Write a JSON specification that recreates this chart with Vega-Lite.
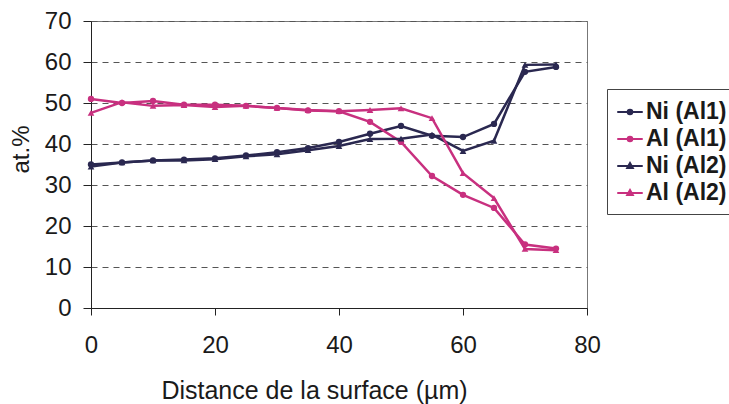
{
  "$schema": "https://vega.github.io/schema/vega-lite/v6.json",
  "width": 496,
  "height": 287,
  "autosize": "none",
  "padding": {"left": 91, "top": 21, "right": 142, "bottom": 96},
  "background": "white",
  "config": {
    "font": "Liberation Sans",
    "view": {"stroke": "#777", "strokeWidth": 1}
  },
  "data": {
    "values": [
      {"x": 0, "y": 35, "s": "Ni (Al1)"}, {"x": 5, "y": 35.5, "s": "Ni (Al1)"}, {"x": 10, "y": 36, "s": "Ni (Al1)"}, {"x": 15, "y": 36.2, "s": "Ni (Al1)"}, {"x": 20, "y": 36.5, "s": "Ni (Al1)"}, {"x": 25, "y": 37.2, "s": "Ni (Al1)"}, {"x": 30, "y": 38, "s": "Ni (Al1)"}, {"x": 35, "y": 39, "s": "Ni (Al1)"}, {"x": 40, "y": 40.5, "s": "Ni (Al1)"}, {"x": 45, "y": 42.5, "s": "Ni (Al1)"}, {"x": 50, "y": 44.4, "s": "Ni (Al1)"}, {"x": 55, "y": 42, "s": "Ni (Al1)"}, {"x": 60, "y": 41.7, "s": "Ni (Al1)"}, {"x": 65, "y": 44.9, "s": "Ni (Al1)"}, {"x": 70, "y": 57.6, "s": "Ni (Al1)"}, {"x": 75, "y": 58.8, "s": "Ni (Al1)"},
      {"x": 0, "y": 51, "s": "Al (Al1)"}, {"x": 5, "y": 50, "s": "Al (Al1)"}, {"x": 10, "y": 50.5, "s": "Al (Al1)"}, {"x": 15, "y": 49.6, "s": "Al (Al1)"}, {"x": 20, "y": 49.6, "s": "Al (Al1)"}, {"x": 25, "y": 49.3, "s": "Al (Al1)"}, {"x": 30, "y": 48.8, "s": "Al (Al1)"}, {"x": 35, "y": 48.2, "s": "Al (Al1)"}, {"x": 40, "y": 48, "s": "Al (Al1)"}, {"x": 45, "y": 45.4, "s": "Al (Al1)"}, {"x": 50, "y": 40.5, "s": "Al (Al1)"}, {"x": 55, "y": 32.2, "s": "Al (Al1)"}, {"x": 60, "y": 27.6, "s": "Al (Al1)"}, {"x": 65, "y": 24.4, "s": "Al (Al1)"}, {"x": 70, "y": 15.5, "s": "Al (Al1)"}, {"x": 75, "y": 14.5, "s": "Al (Al1)"},
      {"x": 0, "y": 34.5, "s": "Ni (Al2)"}, {"x": 5, "y": 35.5, "s": "Ni (Al2)"}, {"x": 10, "y": 36, "s": "Ni (Al2)"}, {"x": 15, "y": 36, "s": "Ni (Al2)"}, {"x": 20, "y": 36.3, "s": "Ni (Al2)"}, {"x": 25, "y": 37, "s": "Ni (Al2)"}, {"x": 30, "y": 37.5, "s": "Ni (Al2)"}, {"x": 35, "y": 38.5, "s": "Ni (Al2)"}, {"x": 40, "y": 39.5, "s": "Ni (Al2)"}, {"x": 45, "y": 41.2, "s": "Ni (Al2)"}, {"x": 50, "y": 41.3, "s": "Ni (Al2)"}, {"x": 55, "y": 42.3, "s": "Ni (Al2)"}, {"x": 60, "y": 38.3, "s": "Ni (Al2)"}, {"x": 65, "y": 40.8, "s": "Ni (Al2)"}, {"x": 70, "y": 59.3, "s": "Ni (Al2)"}, {"x": 75, "y": 59.4, "s": "Ni (Al2)"},
      {"x": 0, "y": 47.6, "s": "Al (Al2)"}, {"x": 5, "y": 50.2, "s": "Al (Al2)"}, {"x": 10, "y": 49.3, "s": "Al (Al2)"}, {"x": 15, "y": 49.5, "s": "Al (Al2)"}, {"x": 20, "y": 49, "s": "Al (Al2)"}, {"x": 25, "y": 49.3, "s": "Al (Al2)"}, {"x": 30, "y": 48.8, "s": "Al (Al2)"}, {"x": 35, "y": 48.3, "s": "Al (Al2)"}, {"x": 40, "y": 48, "s": "Al (Al2)"}, {"x": 45, "y": 48.3, "s": "Al (Al2)"}, {"x": 50, "y": 48.7, "s": "Al (Al2)"}, {"x": 55, "y": 46.3, "s": "Al (Al2)"}, {"x": 60, "y": 32.9, "s": "Al (Al2)"}, {"x": 65, "y": 26.8, "s": "Al (Al2)"}, {"x": 70, "y": 14.4, "s": "Al (Al2)"}, {"x": 75, "y": 14.1, "s": "Al (Al2)"}
    ]
  },
  "encoding": {
    "x": {
      "field": "x", "type": "quantitative",
      "scale": {"domain": [0, 80], "nice": false, "zero": false},
      "axis": {
        "values": [0, 20, 40, 60, 80],
        "title": "Distance de la surface (µm)",
        "grid": false, "labelFlush": false, "labelOverlap": false,
        "domainColor": "#222", "tickColor": "#222", "tickSize": 7,
        "labelFontSize": 24, "labelColor": "#1a1a1a", "labelPadding": 18,
        "titleFontSize": 25, "titleFontWeight": "normal", "titleColor": "#1a1a1a",
        "titleX": 223, "titleY": 70
      }
    },
    "y": {
      "field": "y", "type": "quantitative",
      "scale": {"domain": [0, 70], "nice": false},
      "axis": {
        "values": [0, 10, 20, 30, 40, 50, 60, 70],
        "title": "at.%",
        "grid": true, "gridDash": [6, 5], "gridColor": "#555", "gridWidth": 1,
        "labelFlush": false, "labelOverlap": false,
        "domainColor": "#222", "tickColor": "#222", "tickSize": 8,
        "labelFontSize": 24, "labelColor": "#1a1a1a", "labelPadding": 12,
        "titleFontSize": 24, "titleFontWeight": "normal", "titleColor": "#1a1a1a",
        "titleX": -58, "titleY": 128
      }
    },
    "color": {
      "field": "s", "type": "nominal",
      "scale": {"domain": ["Ni (Al1)", "Al (Al1)", "Ni (Al2)", "Al (Al2)"], "range": ["#2A2850", "#C8307F", "#2A2850", "#C8307F"]},
      "legend": {
        "title": null,
        "orient": "none", "legendX": 516, "legendY": 68,
        "strokeColor": "#444", "padding": 9,
        "labelFontSize": 23, "labelFontWeight": "bold", "labelColor": "#1a1a1a",
        "labelOffset": 2, "rowPadding": 1, "symbolSize": 650,
        "symbolType": "M-1,0L1,0M-0.18,0A0.18,0.18 0 1 1 0.18,0A0.18,0.18 0 1 1 -0.18,0Z",
        "symbolStrokeWidth": 2,
        "encode": {
          "symbols": {
            "update": {
              "shape": {"signal": "indexof(datum.value, 'Al1') >= 0 ? 'M-1,0L1,0M-0.18,0A0.18,0.18 0 1 1 0.18,0A0.18,0.18 0 1 1 -0.18,0Z' : 'M-1,0L1,0M0,-0.24L0.22,0.15L-0.22,0.15Z'"},
              "stroke": {"signal": "scale('color', datum.value)"},
              "fill": {"signal": "scale('color', datum.value)"},
              "strokeWidth": {"value": 2},
              "opacity": {"value": 1}
            }
          }
        }
      }
    }
  },
  "layer": [
    {"mark": {"type": "line", "strokeWidth": 2.5}},
    {
      "transform": [{"filter": "indexof(datum.s, 'Al1') >= 0"}],
      "mark": {"type": "point", "shape": "circle", "filled": true, "size": 40, "opacity": 1}
    },
    {
      "transform": [{"filter": "indexof(datum.s, 'Al2') >= 0"}],
      "mark": {"type": "point", "shape": "triangle-up", "filled": true, "size": 45, "opacity": 1}
    }
  ]
}
